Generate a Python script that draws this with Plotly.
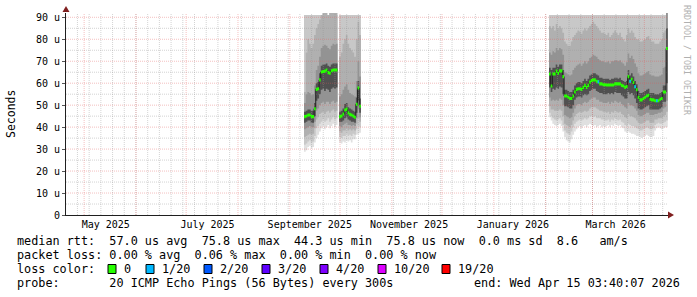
import pandas as pd
import plotly.graph_objects as go

# ------------------------------------------------------------------ data
END_TIME = "2026-04-15 03:40:07"
SPAN_DAYS = 360

x_label_times = ["2025-05-13 22:00", "2025-07-13 19:00", "2025-09-12 22:00",
                 "2025-11-11 07:00", "2026-01-12 10:00", "2026-03-14 19:00"]
x_label_text = ["May 2025", "July 2025", "September 2025", "November 2025",
                "January 2026", "March 2026"]
y_tick_vals = [0, 10, 20, 30, 40, 50, 60, 70, 80, 90]
y_tick_text = ["0", "10 u", "20 u", "30 u", "40 u", "50 u", "60 u", "70 u", "80 u", "90 u"]

# ---- segment 1 (daily, microseconds)
s1_start = "2025-09-09 12:00"
s1_median = [44.8, 45.1, 45.5, 45.5, 44.8, 44.8, 48.4, 57.2, 57.5, 61.5,
             65.1, 65.3, 65.5, 66.0, 64.8, 64.5, 65.7, 66.0, 66.0, 66.0]
s1_loss = [0, 0, 0, 0, 0, 0, 0, 0, 0, 0, 0, 0, 0, 0, 0, 0, 0, 0, 0, 0]
s1_hi3 = [56.0, 74.0, 80.0, 78.0, 76.0, 78.0, 82.0, 85.0, 87.0, 89.0,
          91.0, 94.0, 95.0, 93.0, 91.0, 92.0, 95.0, 96.0, 94.0, 95.0]
s1_hi4 = [51.0, 55.0, 56.0, 55.5, 54.5, 55.0, 59.0, 66.0, 68.0, 72.0,
          76.0, 77.0, 77.5, 77.0, 76.0, 75.5, 77.0, 78.0, 77.5, 78.0]
s1_hi5 = [47.0, 47.5, 48.0, 48.0, 47.5, 47.5, 51.0, 60.0, 60.5, 64.5,
          68.0, 68.5, 68.5, 69.0, 68.0, 67.5, 68.5, 69.0, 69.0, 69.0]
s1_lo5 = [42.0, 42.5, 43.0, 43.0, 42.0, 42.0, 45.0, 52.0, 53.0, 55.0,
          57.0, 57.5, 56.5, 57.5, 57.0, 56.0, 57.5, 58.0, 57.5, 58.0]
s1_lo4 = [39.0, 39.5, 40.0, 40.5, 40.0, 40.0, 42.5, 47.5, 48.5, 50.0,
          51.0, 51.5, 50.5, 51.5, 51.5, 50.5, 51.5, 52.0, 51.0, 51.5]
s1_lo3 = [35.5, 36.0, 36.5, 37.0, 36.5, 37.0, 39.5, 43.5, 44.5, 46.0,
          46.5, 47.0, 46.0, 47.0, 47.5, 46.5, 47.5, 48.0, 47.0, 47.5]
s1_lo2 = [32.0, 32.5, 33.5, 34.0, 33.0, 33.5, 36.0, 39.5, 40.5, 41.5,
          42.5, 43.5, 42.5, 43.0, 44.0, 42.5, 43.5, 44.5, 43.5, 44.0]
s1_lo1 = [28.8, 29.5, 31.0, 31.5, 30.5, 31.0, 33.0, 35.0, 36.5, 38.0,
          39.5, 40.5, 39.0, 40.0, 41.0, 39.5, 40.5, 41.5, 40.0, 41.0]

# ---- segment 2
s2_start = "2025-09-30 12:00"
s2_median = [44.8, 45.1, 46.0, 47.8, 48.2, 46.5, 45.8, 45.5, 45.0, 44.5, 50.4, 57.8, 49.5]
s2_loss = [0, 0, 0, 0, 0, 0, 0, 0, 0, 0, 0, 0, 0]
s2_hi3 = [72.0, 74.0, 78.0, 80.0, 82.0, 78.0, 76.0, 75.0, 74.0, 72.0, 80.0, 88.0, 82.0]
s2_hi4 = [54.0, 55.0, 57.0, 58.5, 59.5, 57.0, 55.5, 55.0, 54.5, 54.0, 61.0, 70.0, 63.0]
s2_hi5 = [47.0, 47.5, 48.5, 50.5, 51.0, 49.0, 48.5, 48.0, 47.5, 47.0, 53.5, 61.0, 53.0]
s2_lo5 = [42.5, 42.5, 43.0, 44.0, 44.5, 43.5, 43.0, 42.5, 42.5, 42.0, 46.5, 52.0, 46.5]
s2_lo4 = [40.5, 40.0, 41.0, 41.5, 42.0, 41.0, 41.0, 40.5, 41.0, 40.5, 44.0, 48.0, 44.5]
s2_lo3 = [38.0, 37.5, 38.5, 38.5, 39.5, 38.5, 39.0, 38.5, 39.0, 38.5, 41.5, 44.0, 42.5]
s2_lo2 = [35.5, 35.0, 36.0, 36.0, 37.0, 36.0, 36.5, 36.0, 37.0, 36.5, 39.0, 40.5, 40.0]
s2_lo1 = [33.0, 32.5, 33.5, 33.0, 34.0, 33.5, 34.0, 33.0, 34.5, 34.5, 36.5, 37.0, 37.5]

# ---- segment 3
s3_start = "2026-02-03 00:00"
s3_median = [64.2, 58.7, 64.2, 64.2, 65.5, 64.5, 65.6, 65.6, 63.0,
             54.2, 54.2, 53.6, 53.0, 53.0, 54.2,
             56.0, 57.2, 57.5, 57.5, 57.2, 58.1, 59.0, 58.1, 59.0, 60.5,
             61.2, 61.5, 61.5, 60.9, 60.6, 59.7, 59.7, 59.3, 59.3,
             59.2, 59.2, 59.2, 59.2, 59.2, 59.7, 59.7, 59.7, 59.7, 59.0, 58.7, 58.1, 58.5,
             63.0, 60.9, 61.8, 60.3, 58.4, 57.0,
             53.6, 52.4, 52.4, 53.0, 53.6, 54.2, 54.5, 52.7, 52.4, 52.4,
             52.0, 52.0, 52.0, 52.7, 53.0, 56.0, 56.0,
             75.8]
s3_loss = [0, 0, 0, 0, 0, 0, 0, 0, 0,
           0, 0, 0, 0, 0, 0,
           0, 0, 0, 0, 0, 0, 0, 0, 0, 0, 0, 0, 0, 0, 1, 0, 0, 0, 0,
           0, 0, 0, 0, 0, 0, 0, 0, 0, 0, 0, 0, 0,
           0, 1, 0, 0, 1, 0,
           0, 0, 0, 0, 0, 0, 0, 0, 0, 0, 0, 1, 0, 0, 0, 0, 0,
           0]
s3_hi3 = [86.0, 85.0, 86.0, 84.0, 87.0, 85.0, 86.0, 85.0, 83.0,
          79.0, 78.0, 77.0, 77.0, 79.0, 81.0,
          82.0, 83.0, 84.0, 83.5, 82.5, 84.0, 85.0, 84.0, 85.0, 86.0,
          87.0, 88.0, 87.0, 86.0, 85.0, 84.0, 83.0, 83.0, 82.5,
          82.0, 83.0, 81.0, 82.0, 83.0, 84.0, 83.0, 82.0, 83.0, 81.0, 80.0, 79.0, 82.0,
          85.0, 83.0, 84.0, 83.0, 81.0, 80.0,
          80.0, 79.0, 79.0, 79.5, 80.0, 81.0, 81.5, 80.0, 79.0, 79.0,
          78.0, 78.0, 78.0, 79.0, 80.0, 83.0, 84.0,
          105.0]
s3_hi4 = [74.0, 73.0, 74.5, 74.0, 76.0, 75.0, 76.0, 75.5, 73.0,
          65.0, 64.5, 64.0, 63.5, 64.0, 66.0,
          67.0, 68.0, 68.5, 69.0, 68.0, 69.0, 70.0, 69.0, 70.0, 71.5,
          72.0, 73.0, 72.5, 72.0, 71.0, 70.5, 70.0, 70.0, 69.5,
          69.5, 70.0, 69.0, 70.0, 70.0, 70.5, 70.5, 70.0, 70.5, 69.5, 69.0, 68.0, 69.5,
          73.5, 71.5, 72.5, 71.0, 69.0, 67.5,
          64.5, 63.5, 63.5, 64.0, 64.5, 65.0, 65.5, 64.0, 63.5, 63.5,
          63.0, 63.0, 63.0, 63.5, 64.0, 67.0, 67.5,
          95.0]
s3_hi5 = [67.0, 66.0, 67.0, 67.0, 68.5, 67.5, 68.5, 68.5, 66.0,
          57.0, 57.0, 56.5, 56.0, 56.0, 57.0,
          59.0, 60.0, 60.5, 60.5, 60.0, 61.0, 62.0, 61.0, 62.0, 63.5,
          64.0, 64.5, 64.5, 64.0, 63.5, 62.5, 62.5, 62.0, 62.0,
          62.0, 62.0, 61.5, 62.0, 62.0, 62.5, 62.5, 62.0, 62.5, 61.5, 61.0, 60.5, 61.0,
          66.0, 63.5, 64.5, 63.0, 61.0, 59.5,
          56.5, 55.5, 55.5, 56.0, 56.5, 57.0, 57.5, 55.5, 55.5, 55.5,
          55.0, 55.0, 55.0, 55.5, 56.0, 59.0, 59.0,
          85.0]
s3_lo5 = [58.0, 56.0, 57.5, 57.0, 58.0, 57.5, 58.5, 58.0, 55.0,
          49.5, 49.5, 49.0, 48.5, 48.5, 50.0,
          52.5, 53.5, 54.0, 54.0, 53.5, 54.5, 55.0, 54.5, 55.0, 56.5,
          57.0, 57.5, 57.5, 56.5, 56.0, 55.5, 55.5, 55.0, 55.0,
          55.0, 55.5, 55.0, 55.5, 55.0, 56.0, 55.5, 55.5, 55.5, 54.5, 54.0, 53.0, 53.0,
          56.0, 55.0, 55.5, 54.5, 53.0, 51.0,
          48.5, 48.0, 48.0, 48.5, 49.0, 49.5, 50.0, 48.0, 48.0, 48.0,
          48.0, 48.0, 48.0, 48.5, 49.0, 51.5, 51.5,
          60.0]
s3_lo4 = [53.5, 52.0, 52.5, 52.0, 52.5, 52.0, 53.0, 52.5, 50.0,
          45.5, 45.0, 44.5, 44.0, 44.5, 46.5,
          48.5, 50.0, 50.5, 50.5, 50.0, 51.0, 51.5, 51.0, 51.5, 52.5,
          53.0, 53.5, 53.5, 52.5, 52.5, 51.5, 51.5, 51.0, 51.0,
          51.0, 51.5, 50.5, 51.5, 51.0, 52.0, 51.5, 51.0, 51.5, 50.5, 50.0, 49.0, 48.5,
          51.0, 50.0, 50.0, 49.5, 48.5, 47.5,
          45.5, 45.0, 45.0, 45.5, 46.0, 46.5, 46.5, 45.5, 45.5, 45.5,
          46.0, 46.0, 46.5, 46.5, 47.0, 48.5, 49.0,
          52.0]
s3_lo3 = [49.5, 48.0, 48.0, 47.5, 47.5, 47.5, 48.0, 47.5, 45.0,
          41.5, 41.0, 40.5, 40.0, 41.0, 43.0,
          45.0, 46.0, 46.5, 47.0, 46.5, 47.0, 47.5, 47.0, 47.5, 48.5,
          49.0, 49.0, 49.0, 48.5, 48.0, 47.5, 47.5, 47.0, 47.0,
          46.5, 47.0, 46.0, 47.0, 46.5, 47.5, 47.0, 46.5, 47.0, 46.0, 45.5, 44.5, 44.0,
          46.0, 45.0, 45.0, 44.5, 44.0, 43.0,
          42.0, 41.5, 41.5, 42.0, 42.5, 43.0, 43.0, 42.0, 42.0, 42.0,
          43.5, 43.5, 44.0, 44.0, 44.0, 45.0, 45.5,
          47.0]
s3_lo2 = [46.5, 45.0, 44.0, 43.5, 43.0, 43.5, 44.0, 43.0, 41.0,
          38.5, 37.5, 37.0, 36.5, 38.0, 40.0,
          41.5, 42.5, 43.0, 43.5, 43.0, 43.5, 44.0, 43.5, 44.0, 45.0,
          45.0, 44.5, 45.0, 44.0, 44.0, 44.0, 43.5, 43.5, 43.0,
          43.0, 43.5, 42.5, 43.5, 43.0, 44.0, 43.5, 43.0, 43.5, 42.5, 42.0, 41.0, 40.5,
          41.5, 41.0, 40.5, 40.5, 40.0, 39.5,
          39.0, 38.5, 38.5, 39.0, 39.5, 40.0, 39.5, 39.0, 39.0, 39.5,
          41.0, 41.5, 42.0, 41.5, 41.5, 42.0, 42.5,
          43.0]
s3_lo1 = [44.5, 43.0, 41.5, 41.0, 40.5, 41.0, 41.5, 40.5, 38.0,
          35.5, 34.0, 33.5, 33.0, 34.5, 36.5,
          38.0, 39.0, 40.0, 40.5, 39.5, 40.5, 41.0, 40.0, 41.0, 41.5,
          41.0, 40.5, 41.0, 40.0, 40.5, 41.0, 40.0, 40.5, 40.0,
          40.5, 41.0, 40.0, 41.0, 40.5, 41.5, 41.0, 40.5, 41.0, 40.0, 39.5, 38.0, 37.5,
          38.0, 37.5, 37.0, 37.0, 36.5, 36.0,
          36.0, 35.5, 35.0, 35.5, 36.0, 36.5, 36.0, 35.5, 35.5, 36.0,
          38.5, 39.5, 40.0, 39.5, 39.0, 39.5, 40.0,
          40.0]

loss_levels = [0, 1, 2, 3, 4, 10, 19]
loss_labels = ["0", "1/20", "2/20", "3/20", "4/20", "10/20", "19/20"]
loss_colors = ["#26ff00", "#00b8ff", "#0059ff", "#5e00ff", "#7e00ff", "#dd00ff", "#ff0000"]

legend_rtt = "median rtt:  57.0 us avg  75.8 us max  44.3 us min  75.8 us now  0.0 ms sd  8.6   am/s"
legend_loss = "packet loss: 0.00 % avg  0.06 % max  0.00 % min  0.00 % now"
legend_probe = "probe:       20 ICMP Echo Pings (56 Bytes) every 300s"
legend_end = "end: Wed Apr 15 03:40:07 2026"

# ------------------------------------------------------------------ style / geometry
W, H = 697, 297
PL, PR, PT, PB = 66, 668, 13, 215
Y_MAX = 91.96
OFF_SCALE = 91.0      # pings above the graph max (rrdtool INF)
HALF_BAND = 0.7       # half thickness of median band (us)
MONO = "DejaVu Sans Mono"
LEG_SIZE = 11.8
smoke_colors = ["#e0e0e0", "#c8c8c8", "#b0b0b0", "#939393", "#505050"]

end_ts = pd.Timestamp(END_TIME)
start_ts = end_ts - pd.Timedelta(days=SPAN_DAYS)
DAY = pd.Timedelta(days=1)


def px_x(p):
    return (p - PL) / (PR - PL)


def px_y(p):
    return (PB - p) / (PB - PT)


def nb(s):
    return s.replace(" ", "\u00a0")


def loss_color(n):
    c = loss_colors[0]
    for lv, col in zip(loss_levels, loss_colors):
        if n >= lv:
            c = col
    return c


segments = [
    dict(start=s1_start, med=s1_median, loss=s1_loss,
         lo=[s1_lo1, s1_lo2, s1_lo3, s1_lo4, s1_lo5], hi=[None, None, s1_hi3, s1_hi4, s1_hi5]),
    dict(start=s2_start, med=s2_median, loss=s2_loss,
         lo=[s2_lo1, s2_lo2, s2_lo3, s2_lo4, s2_lo5], hi=[None, None, s2_hi3, s2_hi4, s2_hi5]),
    dict(start=s3_start, med=s3_median, loss=s3_loss,
         lo=[s3_lo1, s3_lo2, s3_lo3, s3_lo4, s3_lo5], hi=[None, None, s3_hi3, s3_hi4, s3_hi5]),
]
for s in segments:
    t0 = pd.Timestamp(s["start"])
    s["x"] = [t0 + i * DAY for i in range(len(s["med"]) + 1)]

fig = go.Figure()


def band(x, lo, hi, color):
    fig.add_trace(go.Scatter(x=x, y=lo, mode="lines", line=dict(width=0, shape="hv"),
                             hoverinfo="skip", showlegend=False))
    fig.add_trace(go.Scatter(x=x, y=hi, mode="lines", line=dict(width=0, shape="hv"),
                             fill="tonexty", fillcolor=color,
                             hoverinfo="skip", showlegend=False))


# smoke layers
for k in range(5):
    for s in segments:
        n = len(s["med"])
        lo = s["lo"][k] + [s["lo"][k][-1]]
        hi_src = s["hi"][k] if s["hi"][k] is not None else [OFF_SCALE] * n
        hi = hi_src + [hi_src[-1]]
        band(s["x"], lo, hi, smoke_colors[k])

# grid (drawn above the smoke, as rrdtool does)
week_lines = pd.date_range("2025-04-27", end_ts, freq="7D")
month_lines = pd.date_range("2025-05-01", end_ts, freq="MS")


def vlines(dates):
    xs, ys = [], []
    for d in dates:
        xs += [d, d, None]
        ys += [0, Y_MAX, None]
    return xs, ys


def hlines(vals):
    xs, ys = [], []
    for v in vals:
        xs += [start_ts, end_ts, None]
        ys += [v, v, None]
    return xs, ys


GRID = "rgba(150,150,150,0.42)"
MGRID = "rgba(225,90,90,0.38)"
for (gx, gy), col in [(vlines(week_lines), GRID),
                      (hlines([5, 15, 25, 35, 45, 55, 65, 75, 85]), GRID),
                      (vlines(month_lines), MGRID),
                      (hlines(y_tick_vals[1:]), MGRID)]:
    fig.add_trace(go.Scatter(x=gx, y=gy, mode="lines", line=dict(color=col, width=1, dash="1px,1px"),
                             hoverinfo="skip", showlegend=False))

# median: thin dark line + loss-coloured band
for s in segments:
    fig.add_trace(go.Scatter(x=s["x"], y=s["med"] + [s["med"][-1]], mode="lines",
                             line=dict(color="#202020", width=1, shape="hv"),
                             hoverinfo="skip", showlegend=False))
for s in segments:
    lo = [m - HALF_BAND for m in s["med"]]
    hi = [m + HALF_BAND for m in s["med"]]
    band(s["x"], lo + [lo[-1]], hi + [hi[-1]], loss_colors[0])
    for i, l in enumerate(s["loss"]):
        if l > 0:
            band(s["x"][i:i + 2], [lo[i], lo[i]], [hi[i], hi[i]], loss_color(l))

annotations = [
    dict(x=px_x(11), y=px_y(114), text="Seconds", textangle=-90,
         font=dict(family=MONO, size=11.5, color="#000"), xanchor="center", yanchor="middle"),
    dict(x=px_x(687), y=px_y(60), text=nb("RRDTOOL / TOBI OETIKER"), textangle=90,
         font=dict(family=MONO, size=8.3, color="#b0b0b0"), xanchor="center", yanchor="middle"),
    dict(x=px_x(15), y=px_y(241), text=nb(legend_rtt), xanchor="left", yanchor="middle",
         font=dict(family=MONO, size=LEG_SIZE, color="#000")),
    dict(x=px_x(15), y=px_y(255), text=nb(legend_loss), xanchor="left", yanchor="middle",
         font=dict(family=MONO, size=LEG_SIZE, color="#000")),
    dict(x=px_x(15), y=px_y(269), text=nb("loss color:"), xanchor="left", yanchor="middle",
         font=dict(family=MONO, size=LEG_SIZE, color="#000")),
    dict(x=px_x(15), y=px_y(283), text=nb(legend_probe), xanchor="left", yanchor="middle",
         font=dict(family=MONO, size=LEG_SIZE, color="#000")),
    dict(x=px_x(682), y=px_y(283), text=nb(legend_end), xanchor="right", yanchor="middle",
         font=dict(family=MONO, size=LEG_SIZE, color="#000")),
]
shapes = []
box_px = [108, 146, 204, 262, 320, 378, 442]
for bx, lab, col in zip(box_px, loss_labels, loss_colors):
    shapes.append(dict(type="rect", xref="paper", yref="paper",
                       x0=px_x(bx), x1=px_x(bx + 8), y0=px_y(273.5), y1=px_y(264.5),
                       fillcolor=col, line=dict(color="#000", width=1)))
    annotations.append(dict(x=px_x(bx + 13.5), y=px_y(269), text=nb(lab),
                            xanchor="left", yanchor="middle",
                            font=dict(family=MONO, size=LEG_SIZE, color="#000")))
for a in annotations:
    a.update(xref="paper", yref="paper", showarrow=False)

# axis arrows (rrdtool style)
ARROW = "#801f1f"
shapes.append(dict(type="path", xref="paper", yref="paper",
                   path="M {} {} L {} {} L {} {} Z".format(px_x(62.5), px_y(12), px_x(69.5), px_y(12),
                                                         px_x(66), px_y(6)),
                   fillcolor=ARROW, line=dict(width=0)))
shapes.append(dict(type="path", xref="paper", yref="paper",
                   path="M {} {} L {} {} L {} {} Z".format(px_x(668), px_y(211.5), px_x(668), px_y(218.5),
                                                         px_x(674), px_y(215)),
                   fillcolor=ARROW, line=dict(width=0)))

fig.update_layout(
    width=W, height=H,
    margin=dict(l=PL, r=W - PR, t=PT, b=H - PB, pad=0),
    paper_bgcolor="white", plot_bgcolor="white",
    showlegend=False,
    annotations=annotations, shapes=shapes,
    xaxis=dict(type="date", range=[start_ts, end_ts], tickmode="array",
               tickvals=x_label_times, ticktext=x_label_text,
               showgrid=False, zeroline=False, showline=True, linecolor="#1f1f1f", linewidth=1,
               ticks="", tickfont=dict(family=MONO, size=10, color="#000"), fixedrange=True),
    yaxis=dict(range=[0, Y_MAX], tickmode="array", tickvals=y_tick_vals, ticktext=y_tick_text,
               showgrid=False, zeroline=False, showline=True, linecolor="#1f1f1f", linewidth=1,
               ticks="outside", ticklen=3, tickcolor="#555",
               tickfont=dict(family=MONO, size=10, color="#000"), fixedrange=True),
)

fig.write_html("out.html")
